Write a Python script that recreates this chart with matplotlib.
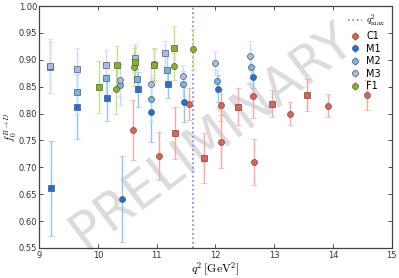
import matplotlib
matplotlib.use('Agg')
import matplotlib.pyplot as plt

plt.rcParams['mathtext.fontset'] = 'cm'
plt.rcParams['xtick.direction'] = 'in'
plt.rcParams['ytick.direction'] = 'in'

# q^2 (GeV^2), f0 value, error, marker shape
c1_q2 = [10.59, 11.04, 11.31, 11.55, 11.81, 12.09, 12.10, 12.38, 12.64, 12.66, 12.96, 13.27, 13.56, 13.91, 14.58]
c1_f0 = [0.770, 0.721, 0.764, 0.818, 0.717, 0.816, 0.748, 0.813, 0.832, 0.710, 0.818, 0.800, 0.834, 0.815, 0.834]
c1_err = [0.056, 0.045, 0.048, 0.030, 0.046, 0.030, 0.050, 0.035, 0.040, 0.042, 0.025, 0.022, 0.030, 0.022, 0.028]
c1_mk = ['o', 'o', 's', 'o', 's', 'o', 'o', 's', 'o', 'o', 's', 'o', 's', 'o', 'o']

m1_q2 = [9.20, 9.65, 10.15, 10.41, 10.68, 10.90, 11.19, 11.47, 12.05, 12.64]
m1_f0 = [0.661, 0.813, 0.829, 0.642, 0.845, 0.803, 0.855, 0.822, 0.846, 0.868]
m1_err = [0.088, 0.060, 0.043, 0.080, 0.033, 0.055, 0.026, 0.037, 0.025, 0.020]
m1_mk = ['s', 's', 's', 'o', 's', 'o', 's', 'o', 'o', 'o']

m2_q2 = [9.19, 9.65, 10.14, 10.38, 10.66, 10.90, 11.17, 11.44, 12.02, 12.61]
m2_f0 = [0.886, 0.840, 0.866, 0.854, 0.865, 0.827, 0.881, 0.855, 0.861, 0.886]
m2_err = [0.048, 0.040, 0.030, 0.038, 0.025, 0.040, 0.025, 0.025, 0.020, 0.020]
m2_mk = ['s', 's', 's', 'o', 's', 'o', 's', 'o', 'o', 'o']

m3_q2 = [9.19, 9.64, 10.13, 10.38, 10.63, 10.90, 11.14, 11.44, 11.99, 12.59]
m3_f0 = [0.888, 0.883, 0.890, 0.863, 0.904, 0.855, 0.912, 0.870, 0.894, 0.908]
m3_err = [0.050, 0.040, 0.028, 0.030, 0.026, 0.030, 0.024, 0.020, 0.022, 0.027]
m3_mk = ['s', 's', 's', 'o', 's', 'o', 's', 'o', 'o', 'o']

f1_q2 = [10.02, 10.31, 10.33, 10.62, 10.63, 10.96, 10.96, 11.29, 11.30, 11.62]
f1_f0 = [0.849, 0.846, 0.891, 0.887, 0.896, 0.892, 0.890, 0.888, 0.923, 0.920]
f1_err = [0.048, 0.046, 0.035, 0.035, 0.030, 0.030, 0.030, 0.025, 0.040, 0.038]
f1_mk = ['s', 'o', 's', 'o', 's', 'o', 's', 'o', 's', 'o']

q2_max = 11.61

series = [
    ('C1', c1_q2, c1_f0, c1_err, c1_mk, '#e8604c', '#f7a8a0'),
    ('M1', m1_q2, m1_f0, m1_err, m1_mk, '#1c74d8', '#8cc6f2'),
    ('M2', m2_q2, m2_f0, m2_err, m2_mk, '#6cb8e8', '#b2dcf6'),
    ('M3', m3_q2, m3_f0, m3_err, m3_mk, '#a9bbee', '#cfdaf6'),
    ('F1', f1_q2, f1_f0, f1_err, f1_mk, '#86b81e', '#c4e08a'),
]

fig = plt.figure(figsize=(3.99, 2.78), dpi=100)
ax = fig.add_axes([0.098, 0.108, 0.884, 0.870])

ax.axvline(q2_max, color='#7b7be8', linestyle=':', linewidth=1.2, label=r'$q^2_{\rm max}$')

for name, xs, ys, es, mks, fc, ec in series:
    for x, y, e, m in zip(xs, ys, es, mks):
        ax.errorbar([x], [y], yerr=[e], fmt=m, markersize=4.3, markerfacecolor=fc,
                    markeredgecolor='#555555', markeredgewidth=0.5,
                    ecolor=ec, elinewidth=1.0, capsize=2, capthick=0.8, zorder=3)
    # legend proxy
    ax.errorbar([], [], yerr=[], fmt='o', markersize=4.3, markerfacecolor=fc,
                markeredgecolor='#555555', markeredgewidth=0.5,
                ecolor=ec, elinewidth=1.0, capsize=2, label=name)

ax.set_xlim(9, 15)
ax.set_ylim(0.55, 1.00)
ax.set_xticks([9, 10, 11, 12, 13, 14, 15])
ax.set_yticks([0.55, 0.60, 0.65, 0.70, 0.75, 0.80, 0.85, 0.90, 0.95, 1.00])
ax.set_yticklabels(['%.2f' % v for v in ax.get_yticks()])
ax.tick_params(labelsize=6, top=True, right=True, length=3, width=0.6, colors='#333333')
ax.tick_params(axis='x', pad=2)
ax.tick_params(axis='y', pad=1.5)
for sp in ax.spines.values():
    sp.set_color('#444444')
    sp.set_linewidth(0.9)

ax.set_xlabel(r'$q^2\,[\mathrm{GeV}^2]$', fontsize=8.5)
ax.xaxis.set_label_coords(0.5, -0.052)
ax.set_ylabel(r'$f_0^{B\to D}$', fontsize=7.5)
ax.yaxis.set_label_coords(-0.057, 0.5)

ax.legend(loc='upper right', fontsize=7, frameon=False, handlelength=1.5,
          handletextpad=0.4, labelspacing=0.25, borderaxespad=0.3)

ax.text(0.49, 0.46, 'PRELIMINARY', transform=ax.transAxes, fontsize=37,
        color='#999999', alpha=0.35, rotation=37, ha='center', va='center', zorder=1)

fig.savefig('out.png', dpi=100)
